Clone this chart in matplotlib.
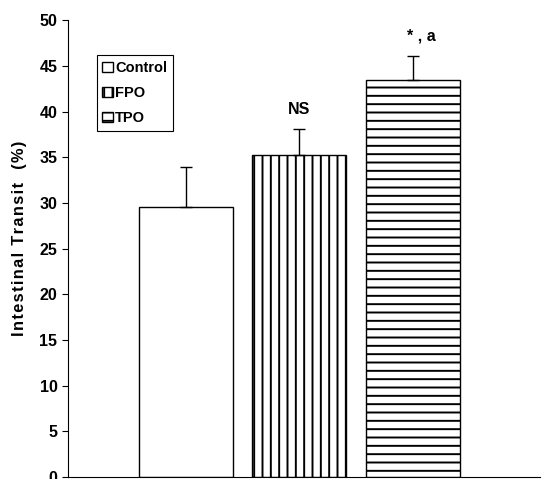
import matplotlib.pyplot as plt
import matplotlib as mpl

groups = ['Control', 'FPO', 'TPO']
means = [29.5, 35.2, 43.4]
errors = [4.4, 2.9, 2.7]
notes = ['', 'NS', '* , a']
hatches = ['', '||', '--']

mpl.rcParams['font.family'] = ['Liberation Sans', 'DejaVu Sans']
mpl.rcParams['font.weight'] = 'bold'
mpl.rcParams['hatch.linewidth'] = 1.4

fig = plt.figure(figsize=(5.43, 4.79), dpi=100)
ax = fig.add_axes([0.125, 0.004, 0.869, 0.954])

x = range(len(groups))
bars = ax.bar(x, means, width=0.83, color='white', edgecolor='black',
              linewidth=1, hatch=hatches, label=groups)
ax.errorbar(x, means, yerr=[[0] * 3, errors], fmt='none', ecolor='black',
            elinewidth=1, capsize=4, capthick=1)

for i, n in enumerate(notes):
    if n:
        ax.text(i + (0.08 if i == 2 else 0), means[i] + errors[i] + 1.3, n,
                ha='center', va='bottom', fontsize=11.5, fontweight='bold')

ax.set_ylim(0, 50)
ax.set_xlim(-1.04, 3.12)
ax.set_yticks(range(0, 51, 5))
ax.set_xticks([])
ax.tick_params(axis='y', direction='out', length=4, labelsize=11.5)
for lbl in ax.get_yticklabels():
    lbl.set_fontweight('bold')
ax.spines['top'].set_visible(False)
ax.spines['right'].set_visible(False)

# spaced-out axis title like the original
title = '\u200a'.join('Intestinal Transit  (%)')
fig.text(20 / 543, 1 - 238 / 479, title, rotation=90, ha='center', va='center',
         fontsize=11.8, fontweight='bold')

leg = ax.legend(loc='upper left', bbox_to_anchor=(0.061, 0.923), fancybox=False,
                edgecolor='black', framealpha=1, handlelength=0.7, handleheight=0.7,
                handletextpad=0.15, borderpad=0.4, labelspacing=0.75,
                borderaxespad=0, prop={'weight': 'bold', 'size': 10.5})
leg.get_frame().set_linewidth(0.8)

fig.savefig('out.png', dpi=100)
